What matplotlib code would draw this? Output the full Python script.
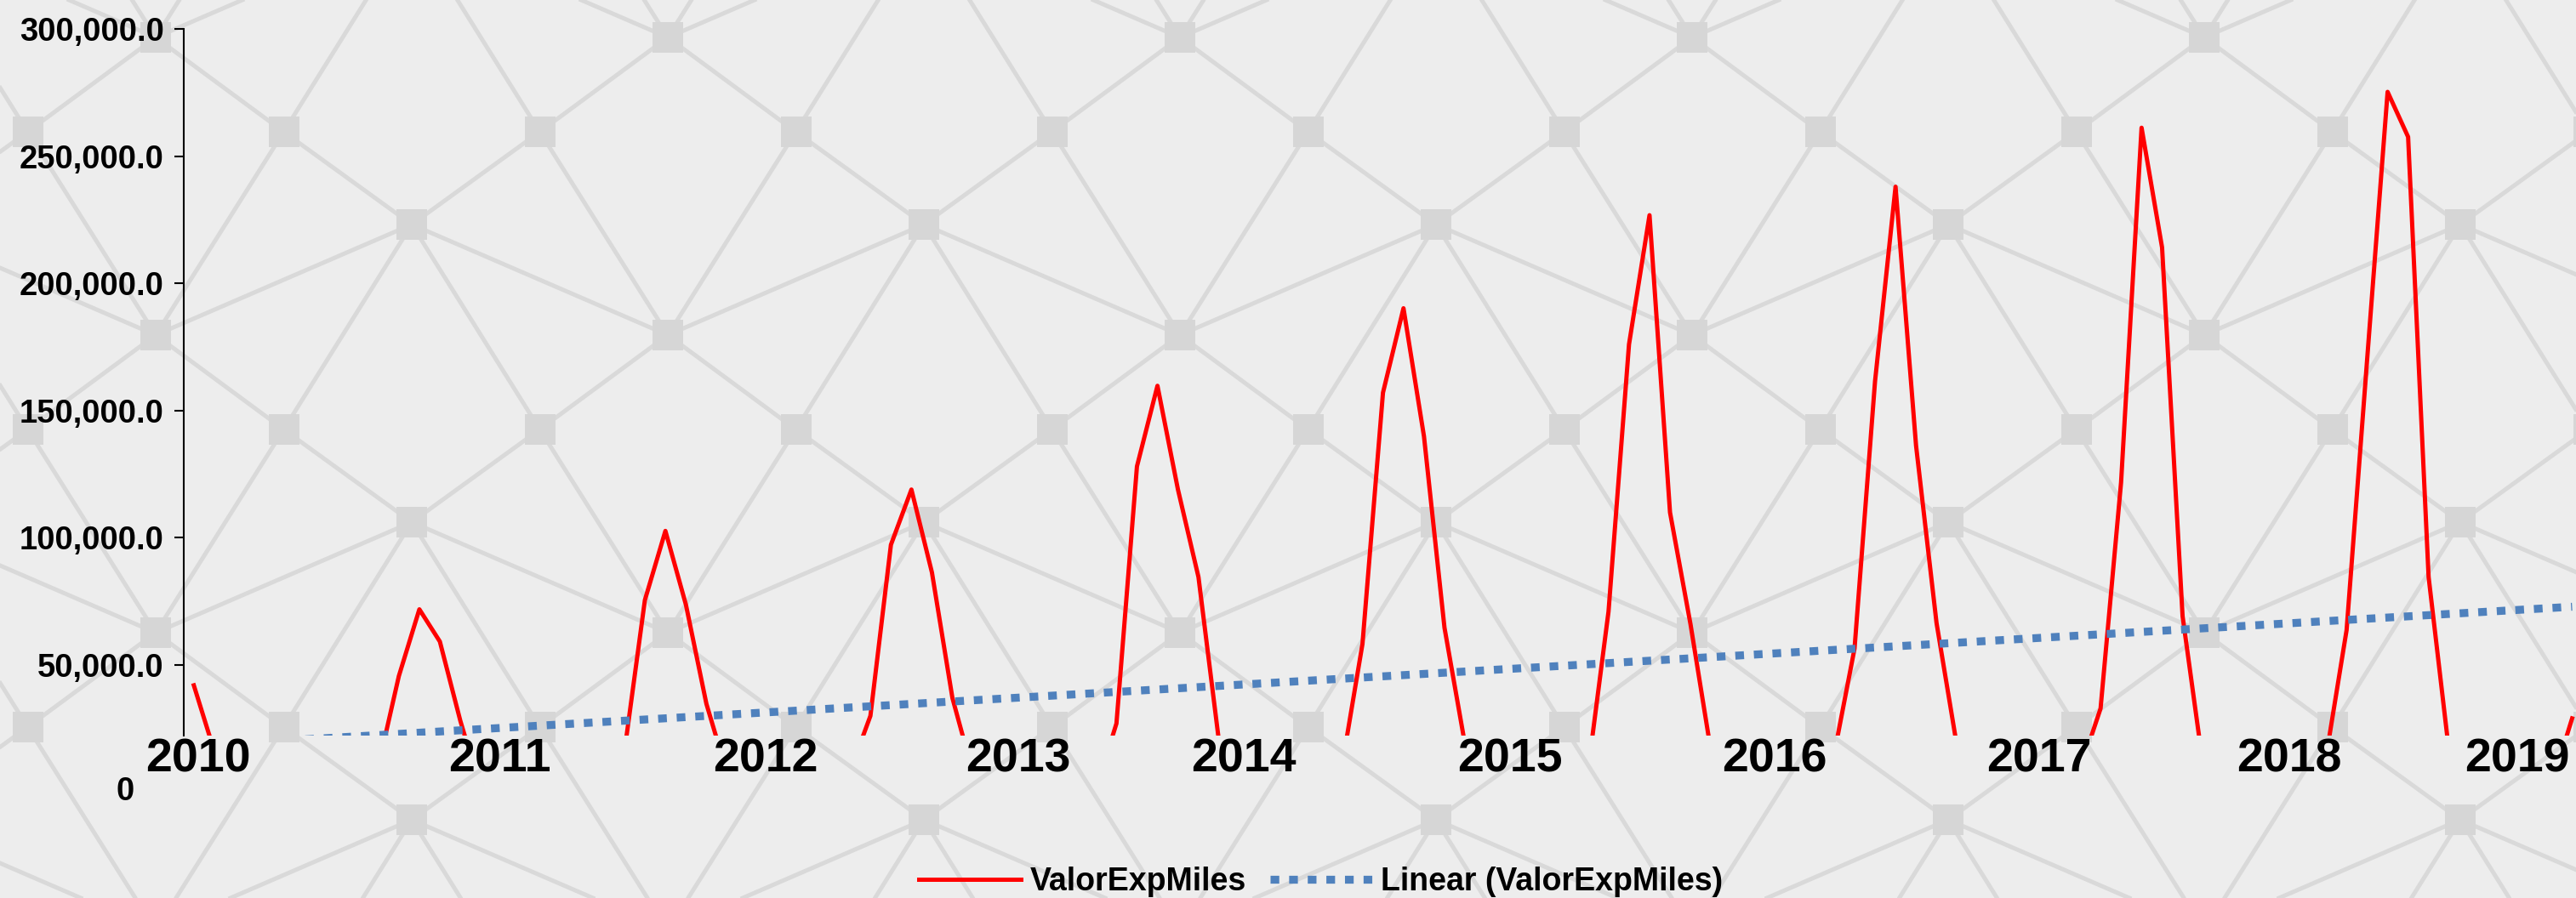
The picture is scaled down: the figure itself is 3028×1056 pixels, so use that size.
import numpy as np
import matplotlib.pyplot as plt
from matplotlib.lines import Line2D
from matplotlib.collections import LineCollection

plt.rcParams['font.family'] = ['Liberation Sans', 'DejaVu Sans']
plt.rcParams['font.weight'] = 'bold'

# ValorExpMiles, monthly values (Jan 2010 .. Sep 2019)
v2010 = [42000, 16000, 3000, 1500, 1000, 800, 800, 1000, 2500, 10200, 45650, 71900]
v2011 = [59220, 28000, 1000, 800, 700, 700, 800, 1200, 3000, 15800, 75540, 102730]
v2012 = [73740, 34740, 7560, 1500, 1000, 1000, 1200, 2500, 8000, 30000, 97270, 119000]
v2013 = [86400, 37000, 7480, 1500, 1000, 800, 800, 800, 1000, 27000, 128100, 159800]
v2014 = [119000, 84600, 20000, 6000, 4000, 3000, 3500, 5000, 10200, 58300, 157100, 190300]
v2015 = [139900, 64650, 18800, 6000, 4000, 3500, 4000, 5000, 8500, 71000, 176100, 226900]
v2016 = [110000, 66000, 16000, 6000, 4000, 3500, 4000, 6000, 14700, 56480, 161600, 238100]
v2017 = [136300, 66480, 17900, 6000, 4000, 3500, 4000, 5000, 8700, 32900, 121800, 261300]
v2018 = [214200, 69200, 10500, 5000, 4000, 3500, 4000, 6000, 14000, 63740, 170000, 275400]
v2019 = [257700, 84600, 15700, 12000, 10000, 9000, 10000, 3000, 29000]

valor = v2010 + v2011 + v2012 + v2013 + v2014 + v2015 + v2016 + v2017 + v2018 + v2019

years = ['2010', '2011', '2012', '2013', '2014', '2015', '2016', '2017', '2018', '2019']
year_pos = [0.2, 14.9, 27.9, 40.2, 51.2, 64.2, 77.1, 90.0, 102.2, 113.3]
y_ticks = [50000, 100000, 150000, 200000, 250000, 300000]

W, H = 3028, 1056
fig = plt.figure(figsize=(W / 100, H / 100), dpi=100, facecolor='#ededed')

# fondo: red de nodos gris claro
bg = fig.add_axes([0, 0, 1, 1], zorder=0)
bg.set_xlim(0, W)
bg.set_ylim(H, 0)
bg.axis('off')
col_off = [44, 155, 264, 155]
dx, py = 150.5, 350
segs, nx, ny = [], [], []
for k in range(-3, 24):
    cx = 183 + dx * k
    off = col_off[k % 4]
    d = col_off[(k + 1) % 4] - off
    for m in range(-3, 5):
        y = off + py * m
        nx.append(cx)
        ny.append(y)
        segs.append([(cx, y), (cx + dx, y + d)])
        segs.append([(cx, y), (cx + dx, y + d - py if d > 0 else y + d + py)])
        if k % 4 == 0:
            segs.append([(cx, y), (cx + 2 * dx, y - 130)])
        elif k % 4 == 2:
            segs.append([(cx, y), (cx + 2 * dx, y + 130)])
bg.add_collection(LineCollection(segs, colors='#d9d9d9', linewidths=3.6))
bg.scatter(nx, ny, marker='s', s=700, color='#d6d6d6', linewidths=0, zorder=3)

# grafico principal
left, right = 215.8, 3035.5
top, bottom = 34.5, 865
ax = fig.add_axes([left / W, 1 - bottom / H, (right - left) / W, (bottom - top) / H], zorder=1)
ax.patch.set_alpha(0)

x = np.arange(len(valor))
ax.plot(x, valor, color='#ff0000', lw=3.6, solid_joinstyle='round', label='ValorExpMiles')
b, a = np.polyfit(x, valor, 1)
ax.plot(x, a + b * x, color='#4f81bd', lw=6.7, linestyle=(0, (1.1, 1.25)),
        label='Linear (ValorExpMiles)')

ax.set_xlim(-0.5, len(valor) - 0.5)
ax.set_ylim(22240, 300000)

for s in ['top', 'right', 'bottom']:
    ax.spines[s].set_visible(False)
ax.spines['left'].set_linewidth(1.5)
ax.spines['left'].set_color('black')

ax.set_yticks(y_ticks)
ax.set_yticklabels([f'{v:,.1f}' for v in y_ticks])
ax.tick_params(axis='y', length=8, width=1.5, pad=8.6, labelsize=27.5, colors='black')
ax.set_xticks(year_pos)
ax.set_xticklabels(years)
ax.tick_params(axis='x', length=0, pad=1.5, labelsize=40)

ax.annotate('0', xy=(0, 0), xycoords=('axes fraction', 'data'), xytext=(-41.5, 0),
            textcoords='offset points', ha='right', va='center', fontsize=27.5,
            fontweight='bold', annotation_clip=False)

handles = [Line2D([], [], color='#ff0000', lw=3.6),
           Line2D([], [], color='#4f81bd', lw=6.7, linestyle=(0, (1.1, 1.25)))]
fig.legend(handles, ['ValorExpMiles', 'Linear (ValorExpMiles)'], loc='center',
           bbox_to_anchor=(0.5128, 0.018), ncol=2, frameon=False, fontsize=27,
           handlelength=3.2, handletextpad=0.28, columnspacing=0.75,
           borderpad=0, borderaxespad=0)

plt.savefig('out.png', dpi=100, facecolor=fig.get_facecolor())
